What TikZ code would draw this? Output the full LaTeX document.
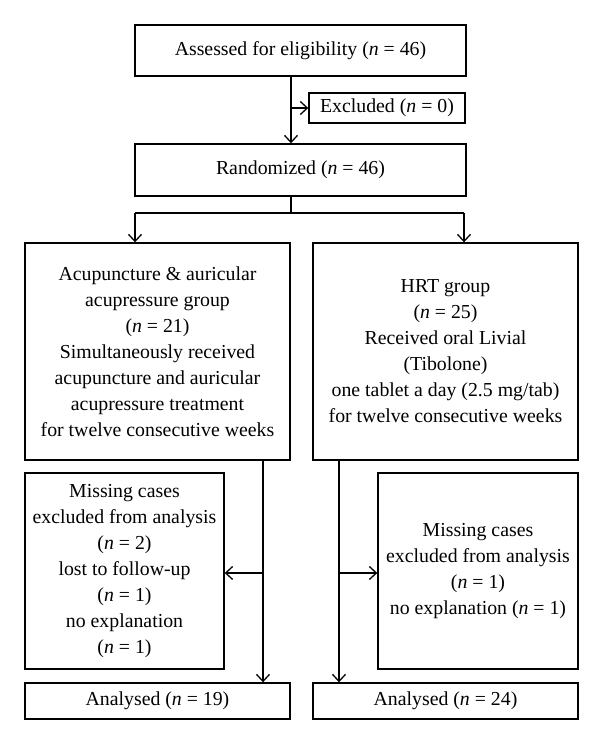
\documentclass[tikz,border=0pt]{standalone}
\usepackage{fontspec}
\setmainfont{Liberation Serif}
\usetikzlibrary{arrows.meta}
\tikzset{
  box/.style={draw, line width=1.4pt, align=center, inner sep=0pt,
    font=\fontsize{19.8}{26}\selectfont},
  conn/.style={line width=1.3pt},
  arr/.style={conn, -{Straight Barb[length=7pt,width=13pt,line width=1.3pt]}}
}
\begin{document}
\begin{tikzpicture}[x=1pt,y=-1pt]
\useasboundingbox (0,0) rectangle (600,745);
\node[box, minimum width=331pt, minimum height=51pt] (assess) at (300.5,50.5) {Assessed for eligibility (\textit{n} = 46)};
\node[box, minimum width=156pt, minimum height=30pt] (excl) at (387,108) {Excluded (\textit{n} = 0)};
\node[box, minimum width=331pt, minimum height=52pt] (rand) at (300.5,170) {Randomized (\textit{n} = 46)};
\node[box, minimum width=265pt, minimum height=217pt] (lg) at (157.5,351.5) {Acupuncture \& auricular\\acupressure group\\(\textit{n} = 21)\\Simultaneously received\\acupuncture and auricular\\acupressure treatment\\for twelve consecutive weeks};
\node[box, minimum width=265pt, minimum height=217pt] (rg) at (445.5,351.5) {HRT group\\(\textit{n} = 25)\\Received oral Livial\\(Tibolone)\\one tablet a day (2.5 mg/tab)\\for twelve consecutive weeks};
\node[box, minimum width=199pt, minimum height=196pt] (lm) at (124.5,571) {Missing cases\\excluded from analysis\\(\textit{n} = 2)\\lost to follow-up\\(\textit{n} = 1)\\no explanation\\(\textit{n} = 1)};
\node[box, minimum width=200pt, minimum height=196pt] (rm) at (478,571) {Missing cases\\excluded from analysis\\(\textit{n} = 1)\\no explanation (\textit{n} = 1)};
\node[box, minimum width=265pt, minimum height=36pt] (al) at (157.5,701) {Analysed (\textit{n} = 19)};
\node[box, minimum width=265pt, minimum height=36pt] (ar) at (445.5,701) {Analysed (\textit{n} = 24)};
% connectors
\coordinate (j1) at (291,108);
\draw[arr] (assess.south -| j1) -- (rand.north -| j1);
\draw[arr] (j1) -- (excl.west);
\coordinate (j2) at (291,213);
\coordinate (sl) at (135,213);
\coordinate (sr) at (464,213);
\draw[conn] (rand.south -| j2) -- (j2);
\draw[conn] (sl) -- (sr);
\draw[arr] (sl) -- (sl |- lg.north);
\draw[arr] (sr) -- (sr |- rg.north);
\coordinate (vl) at (263,573);
\coordinate (vr) at (339,573);
\draw[arr] (vl |- lg.south) -- (vl |- al.north);
\draw[arr] (vl) -- (vl -| lm.east);
\draw[arr] (vr |- rg.south) -- (vr |- ar.north);
\draw[arr] (vr) -- (vr -| rm.west);
\end{tikzpicture}
\end{document}
